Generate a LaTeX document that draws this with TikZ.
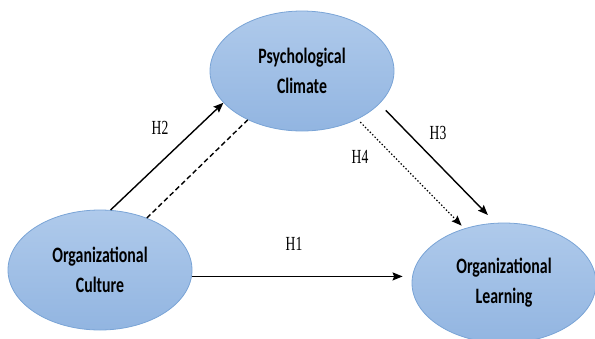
\documentclass[tikz,border=0pt]{standalone}
\usepackage{fontspec}
\setmainfont[FakeStretch=0.72]{Carlito}
\newfontfamily\hfont[FakeStretch=0.68]{Liberation Serif}
\usetikzlibrary{shapes.geometric, arrows.meta}

\definecolor{ovaltop}{HTML}{AFCAEB}
\definecolor{ovalbot}{HTML}{92B5E1}
\definecolor{ovalrim}{HTML}{7AA4D6}

\tikzset{
  construct/.style={ellipse, draw=ovalrim, line width=0.8pt, top color=ovaltop, bottom color=ovalbot, minimum width=184pt, minimum height=120pt, inner sep=0pt, align=center, font=\fontsize{22}{30}\selectfont\bfseries},
  hyp/.style={font=\hfont\fontsize{20}{20}\selectfont, inner sep=0pt},
  effect/.style={line width=1.4pt, -{Stealth[length=10pt, width=8pt, inset=1.5pt]}}
}

\begin{document}
\begin{tikzpicture}[x=1pt, y=-1pt]
  \useasboundingbox (0,0) rectangle (595,338);
  \node[construct] (pc) at (302,71) {Psychological\\Climate};
  \node[construct] (oc) at (100,270) {Organizational\\Culture};
  \node[construct] (ol) at (504,283) {Organizational\\Learning};
  \draw[effect] (oc.80) to (pc.202);
  \draw[line width=1.4pt, dash pattern=on 5pt off 3pt] (oc.48) to (pc.222);
  \draw[effect, shorten <=9pt, shorten >=11pt] (pc.-23.6) to (ol.98.5);
  \draw[effect, dotted, line width=1.2pt, shorten <=4pt, shorten >=4pt] (pc.-41) to (ol.126);
  \draw[effect, shorten >=9pt] (oc.-4) to (ol.west |- oc.-4);
  \node[hyp] (h1) at (294,244) {H1};
  \node[hyp] (h2) at (160,128) {H2};
  \node[hyp] (h3) at (438,133) {H3};
  \node[hyp] (h4) at (360,157) {H4};
\end{tikzpicture}
\end{document}
